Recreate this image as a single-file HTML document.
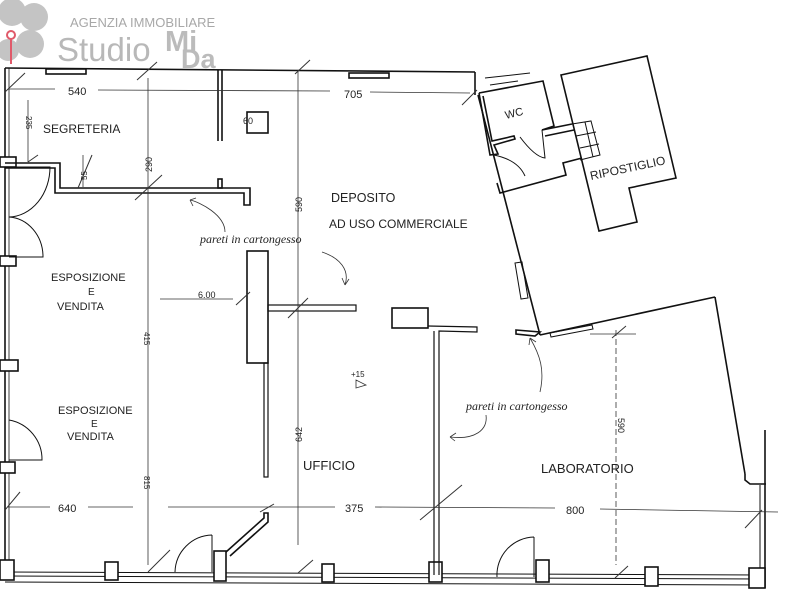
<!DOCTYPE html>
<html><head><meta charset="utf-8"><style>
html,body{margin:0;padding:0;background:#fff;}
svg{display:block}
.t{font-family:"Liberation Sans",sans-serif;fill:#222}
.h{font-family:"Liberation Serif",serif;font-style:italic;fill:#222}
</style></head><body>
<svg width="800" height="600" viewBox="0 0 800 600" xmlns="http://www.w3.org/2000/svg">
<rect width="800" height="600" fill="#fff"/>
<g fill="#c4c4c4">
<circle cx="12" cy="12" r="14"/><circle cx="34" cy="17" r="14"/><circle cx="30" cy="44" r="14"/><circle cx="8" cy="50" r="11"/>
</g>
<circle cx="11" cy="35" r="4" fill="none" stroke="#e05a6a" stroke-width="2"/>
<line x1="11" y1="38" x2="11" y2="64" stroke="#e05a6a" stroke-width="2"/>
<text x="70" y="27" class="t" font-size="13" style="fill:#a8a8a8">AGENZIA IMMOBILIARE</text>
<text x="57" y="61" class="t" font-size="33" style="fill:#b8b8b8">Studio</text>
<text x="165" y="51" class="t" font-size="29" font-weight="bold" style="fill:#bbb">Mi</text>
<text x="181" y="68" class="t" font-size="27" font-weight="bold" style="fill:#bbb">Da</text>

<g stroke="#111" fill="none" stroke-width="1.6">
<line x1="5" y1="68" x2="475" y2="72"/>
<line x1="475" y1="72" x2="475" y2="95"/>
<line x1="5" y1="68" x2="5" y2="580"/>
<line x1="9" y1="68" x2="9" y2="580" stroke-width="0.8"/>
<line x1="5" y1="572" x2="765" y2="575" stroke-width="1"/>
<line x1="5" y1="576" x2="765" y2="579" stroke-width="1"/>
<line x1="5" y1="582" x2="765" y2="585" stroke-width="1"/>
<line x1="765" y1="430" x2="765" y2="588"/>
<line x1="760" y1="485" x2="760" y2="570" stroke-width="1"/>
<rect x="0" y="157" width="16" height="10" fill="#fff"/>
<rect x="0" y="256" width="16" height="10" fill="#fff"/>
<rect x="0" y="360" width="18" height="11" fill="#fff"/>
<rect x="0" y="462" width="15" height="11" fill="#fff"/>
<rect x="0" y="560" width="14" height="20" fill="#fff"/>
<rect x="105" y="562" width="13" height="18" fill="#fff"/>
<rect x="214" y="551" width="12" height="30" fill="#fff"/>
<rect x="322" y="564" width="12" height="18" fill="#fff"/>
<rect x="429" y="562" width="13" height="20" fill="#fff"/>
<rect x="536" y="560" width="13" height="22" fill="#fff"/>
<rect x="645" y="567" width="13" height="19" fill="#fff"/>
<rect x="749" y="568" width="16" height="20" fill="#fff"/>
<rect x="46" y="69" width="40" height="5"/>
<rect x="349" y="73" width="40" height="5"/>
<path d="M5 163 H60 V188 H250 V205 H244 V193 H55 V168 H5"/>
<line x1="218" y1="70" x2="218" y2="141"/><line x1="222" y1="70" x2="222" y2="141"/>
<rect x="218" y="179" width="4" height="9"/>
<rect x="247" y="112" width="21" height="21"/>
<rect x="247" y="251" width="21" height="112"/>
<rect x="264" y="363" width="4" height="114" stroke-width="1.2"/>
<rect x="268" y="305" width="88" height="6" stroke-width="1.2"/>
<rect x="392" y="308" width="36" height="20"/>
<path d="M428 326 L477 327 L477 332 L439 331 V575 M434 331 V575" stroke-width="1.2"/>
<path d="M226 552 L264 518 V513 L268 513 V522 L230 556"/>
<line x1="478" y1="95" x2="540" y2="335"/>
<path d="M516 330 L540 332 L535 336 L516 334 Z"/>
<line x1="540" y1="335" x2="715" y2="297"/>
<path d="M550 333 L592 325 L593 329 L551 337 Z" stroke-width="1"/>
<line x1="715" y1="297" x2="745" y2="474"/>
<path d="M745 474 L745 480 L750 484 L766 484"/>
<path d="M515 263 L522 262 L528 298 L521 299 Z" stroke-width="1"/>
<path d="M479 93 L543 81 L554 126 L542 130 M479 93 L490 155 L498 154 L494 145 L515 139 L514 136 L492 141 L483 96"/>
<path d="M485 78 L530 73 M490 85 L518 81" stroke-width="1"/>
<path d="M520 137 Q535 157 545 158 L542 130" stroke-width="1"/>
<path d="M542 130 L572 124 M545 136 L574 130"/>
<path d="M494 155 Q518 160 525 176" stroke-width="1"/>
<path d="M497 183 L500 193 L566 175 L563 163 L582 158"/>
<path d="M572 124 L591 121 L600 155 L580 160 M576 136 L596 132 M580 148 L599 144 M585 122 L593 157" stroke-width="1"/>
<path d="M561 75 L647 56 L676 178 L629 188 L637 222 L599 231 Z"/>
<path d="M9 167 H50 A42 50 0 0 1 9 217" stroke-width="1"/>
<path d="M9 217 A36 40 0 0 1 43 257 H9" stroke-width="1"/>
<path d="M9 420 A40 40 0 0 1 42 460 L9 460" stroke-width="1"/>
<path d="M212 535 V572 M175 572 A38 38 0 0 1 212 535" stroke-width="1"/>
<path d="M534 537 V577 M497 577 A38 38 0 0 1 534 537" stroke-width="1"/>
</g>
<g stroke="#333" stroke-width="0.8" fill="none">
<line x1="8" y1="89" x2="55" y2="89"/><line x1="98" y1="90" x2="330" y2="91"/><line x1="370" y1="92" x2="470" y2="93"/>
<line x1="8" y1="507" x2="50" y2="507"/><line x1="88" y1="507" x2="133" y2="507"/><line x1="168" y1="507" x2="335" y2="507"/><line x1="375" y1="507" x2="555" y2="508"/><line x1="600" y1="509" x2="778" y2="512"/>
<line x1="148" y1="78" x2="148" y2="565"/>
<line x1="298" y1="70" x2="298" y2="545"/>
<line x1="616" y1="330" x2="616" y2="565" stroke-dasharray="6 3"/>
<line x1="28" y1="100" x2="28" y2="162"/>
<line x1="83" y1="155" x2="83" y2="187"/>
<line x1="160" y1="299" x2="233" y2="299"/>
<line x1="590" y1="334" x2="636" y2="334"/>
<g stroke-width="1">
<line x1="5" y1="92" x2="25" y2="73"/><line x1="137" y1="80" x2="157" y2="62"/><line x1="295" y1="74" x2="310" y2="60"/>
<line x1="135" y1="200" x2="162" y2="175"/><line x1="5" y1="510" x2="20" y2="492"/><line x1="148" y1="572" x2="170" y2="550"/>
<line x1="288" y1="318" x2="308" y2="298"/><line x1="236" y1="305" x2="250" y2="292"/>
<line x1="298" y1="573" x2="313" y2="560"/><line x1="260" y1="512" x2="274" y2="504"/>
<line x1="420" y1="520" x2="462" y2="485"/><line x1="612" y1="338" x2="626" y2="326"/>
<line x1="745" y1="528" x2="762" y2="510"/><line x1="615" y1="578" x2="628" y2="566"/>
<line x1="28" y1="162" x2="38" y2="155"/><line x1="78" y1="188" x2="92" y2="155"/>
<line x1="462" y1="105" x2="477" y2="90"/>
</g>
<path d="M190 200 C200 202 225 215 225 232" />
<path d="M190 200 l3 6 M190 200 l6 -2"/>
<path d="M322 252 C340 258 350 270 345 285 M345 285 l-3 -7 M345 285 l4 -6"/>
<path d="M530 338 C540 355 545 370 540 392 M530 338 l-1 7 M530 338 l6 4"/>
<path d="M486 415 C488 430 475 440 450 437 M450 437 l6 -4 M450 437 l5 4"/>
<path d="M356 380 L366 385 L356 388 Z"/>
</g>
<g class="t" font-size="11">
<text x="68" y="95">540</text>
<text x="344" y="98">705</text>
<text x="58" y="512">640</text>
<text x="345" y="512">375</text>
<text x="566" y="514">800</text>
<text x="243" y="124" font-size="9">60</text>
<text x="198" y="298" font-size="9">6.00</text>
<text x="43" y="133" font-size="12">SEGRETERIA</text>
<text x="331" y="202" font-size="12.5">DEPOSITO</text>
<text x="329" y="228" font-size="12">AD USO COMMERCIALE</text>
<text x="51" y="281" font-size="11">ESPOSIZIONE</text>
<text x="88" y="295" font-size="10">E</text>
<text x="57" y="310" font-size="11">VENDITA</text>
<text x="58" y="414" font-size="11">ESPOSIZIONE</text>
<text x="91" y="427" font-size="10">E</text>
<text x="67" y="440" font-size="11">VENDITA</text>
<text x="303" y="470" font-size="13">UFFICIO</text>
<text x="541" y="473" font-size="13">LABORATORIO</text>
<text x="506" y="119" font-size="11" transform="rotate(-14 506 119)">WC</text>
<text x="591" y="180" font-size="12" transform="rotate(-12 591 180)">RIPOSTIGLIO</text>
<text x="351" y="377" font-size="8">+15</text>
<text x="0" y="0" font-size="9" transform="translate(152 172) rotate(-90)">290</text>
<text x="0" y="0" font-size="9" transform="translate(302 212) rotate(-90)">590</text>
<text x="0" y="0" font-size="9" transform="translate(302 442) rotate(-90)">642</text>
<text x="0" y="0" font-size="8" transform="translate(144 332) rotate(90)">415</text>
<text x="0" y="0" font-size="8" transform="translate(144 476) rotate(90)">815</text>
<text x="0" y="0" font-size="9" transform="translate(618 418) rotate(90)">590</text>
<text x="0" y="0" font-size="8" transform="translate(26 116) rotate(90)">235</text>
<text x="0" y="0" font-size="8" transform="translate(87 180) rotate(-90)">55</text>
</g>
<g class="h" font-size="12">
<text x="200" y="243">pareti in cartongesso</text>
<text x="466" y="410">pareti in cartongesso</text>
</g>
</svg>
</body></html>
